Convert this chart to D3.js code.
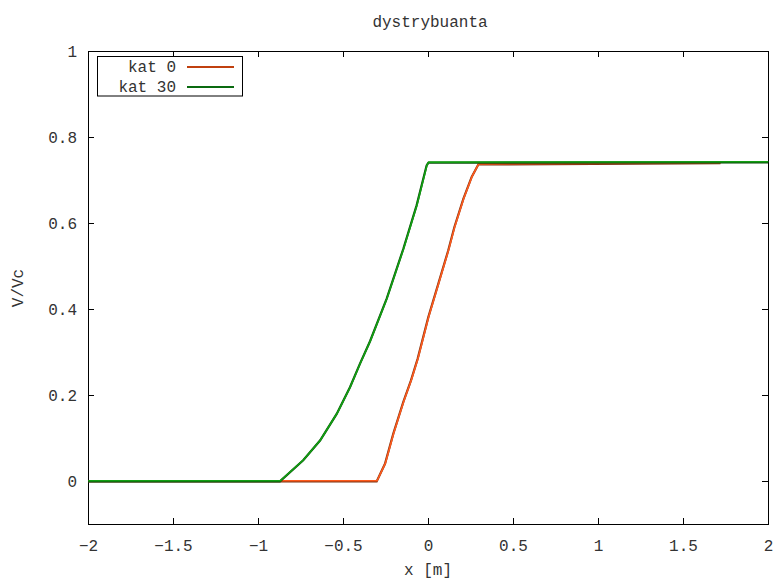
<!DOCTYPE html>
<html>
<head>
<meta charset="utf-8">
<script src="https://cdn.jsdelivr.net/npm/d3@7"></script>
<style>
  body { margin: 0; background: #fff; }
  text { font-family: "Liberation Mono", "DejaVu Sans Mono", monospace; font-size: 16px; fill: #333; }
</style>
</head>
<body>
<svg id="chart"></svg>
<script>
// data (x in m, V/Vc)
var kat0X = [-2, -0.87, -0.302, -0.253, -0.204, -0.145, -0.1, -0.061, 0.002, 0.061, 0.119, 0.155, 0.208, 0.257, 0.296, 1.72];
var kat0Y = [0, 0, 0, 0.041, 0.111, 0.185, 0.235, 0.285, 0.382, 0.46, 0.537, 0.591, 0.657, 0.708, 0.737, 0.74];
var kat30X = [-2, -0.871, -0.734, -0.635, -0.537, -0.459, -0.4, -0.341, -0.243, -0.145, -0.067, -0.008, 0.002, 2];
var kat30Y = [0, 0, 0.049, 0.095, 0.157, 0.219, 0.274, 0.326, 0.425, 0.541, 0.642, 0.735, 0.741, 0.742];
var xTicks = [-2, -1.5, -1, -0.5, 0, 0.5, 1, 1.5, 2];
var yTicks = [0, 0.2, 0.4, 0.6, 0.8, 1];
var seriesNames = ["kat 0", "kat 30"];

var width = 777;
var height = 582;
var margin = {left: 88, right: 9, top: 51, bottom: 58};

var svg = d3.select("#chart").attr("width", width).attr("height", height);

var x = d3.scaleLinear().domain([-2, 2]).range([margin.left, width - margin.right]);
var y = d3.scaleLinear().domain([-0.1, 1]).range([height - margin.bottom, margin.top]);

// axes with gnuplot-like inward ticks
svg.append("g").attr("transform", "translate(0," + y(-0.1) + ")")
  .call(d3.axisBottom(x).tickValues(xTicks).tickSize(-6).tickPadding(16).tickFormat(d3.format("")));
svg.append("g").attr("transform", "translate(" + x(-2) + ",0)")
  .call(d3.axisLeft(y).tickValues(yTicks).tickSize(-6).tickPadding(11).tickFormat(d3.format("")));
svg.append("g").attr("transform", "translate(0," + y(1) + ")")
  .call(d3.axisTop(x).tickValues(xTicks).tickSize(-6).tickFormat(""));
svg.append("g").attr("transform", "translate(" + x(2) + ",0)")
  .call(d3.axisRight(y).tickValues(yTicks).tickSize(-6).tickFormat(""));

svg.selectAll(".domain").remove();
svg.selectAll(".tick line").attr("stroke", "#000");
svg.selectAll(".tick text").attr("fill", "#333");
svg.selectAll("g").attr("font-family", null).attr("font-size", null);

// border
svg.append("rect")
  .attr("x", x(-2) + 0.5).attr("y", y(1) + 0.5)
  .attr("width", x(2) - x(-2)).attr("height", y(-0.1) - y(1))
  .attr("fill", "none").attr("stroke", "#000").attr("stroke-width", 1);

// lines
var line = d3.line().x(function (d) { return x(d[0]); }).y(function (d) { return y(d[1]); });
var kat0 = d3.zip(kat0X, kat0Y);
var kat30 = d3.zip(kat30X, kat30Y);

function drawSeries(data, dark, bright) {
  svg.append("path").datum(data).attr("d", line)
    .attr("fill", "none").attr("stroke", dark).attr("stroke-width", 2.2)
    .attr("transform", "translate(0,0.4)");
  svg.append("path").datum(data).attr("d", line)
    .attr("fill", "none").attr("stroke", bright).attr("stroke-width", 1.6)
    .attr("transform", "translate(0.4,-0.2)");
}
drawSeries(kat0, "#7a3010", "#ff5a1c");
drawSeries(kat30, "#0a4a0a", "#12a012");

// legend
svg.append("rect")
  .attr("x", 97.5).attr("y", 56.5).attr("width", 145).attr("height", 39.5)
  .attr("fill", "#fff").attr("stroke", "#000");
var legendColors = ["#c0400f", "#0a6a10"];
seriesNames.forEach(function (name, i) {
  var ly = 67 + i * 20;
  svg.append("text").attr("x", 176).attr("y", ly + 5).attr("text-anchor", "end").text(name);
  svg.append("line").attr("x1", 187).attr("x2", 234).attr("y1", ly).attr("y2", ly)
    .attr("stroke", legendColors[i]).attr("stroke-width", 2.2);
});

// titles
svg.append("text").attr("x", 430).attr("y", 27).attr("text-anchor", "middle").text("dystrybuanta");
svg.append("text").attr("x", 428).attr("y", 575).attr("text-anchor", "middle").text("x [m]");
svg.append("text").attr("transform", "translate(23,288) rotate(-90)").attr("text-anchor", "middle").text("V/Vc");
</script>
</body>
</html>
